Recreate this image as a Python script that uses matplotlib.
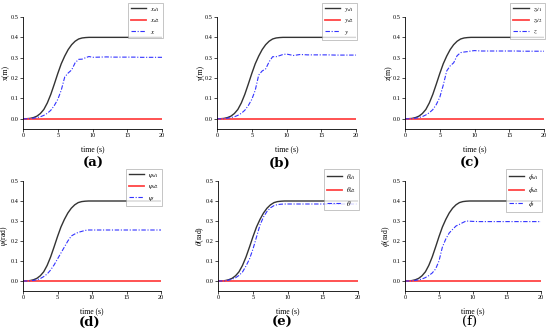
import matplotlib
matplotlib.use("Agg")
import matplotlib.pyplot as plt

plt.rcParams['font.family'] = ['Liberation Serif', 'DejaVu Serif']
plt.rcParams['mathtext.fontset'] = 'stix'

# time samples
t = [0, 0.5, 1, 1.5, 2, 2.5, 3, 3.5, 4, 4.5, 5, 5.5, 6, 6.5, 7, 7.5, 8, 8.5, 9, 9.5, 10,
     11, 12, 13, 14, 15, 16, 17, 18, 19, 20]

# desired trajectory 1 (same in all panels)
des1 = [0, 0.0005, 0.002, 0.006, 0.013, 0.026, 0.046, 0.078, 0.12, 0.17, 0.222, 0.27, 0.308,
        0.34, 0.364, 0.381, 0.392, 0.397, 0.399, 0.4, 0.4,
        0.4, 0.4, 0.4, 0.4, 0.4, 0.4, 0.4, 0.4, 0.4, 0.4]
# desired trajectory 2 (zero)
des2 = [0] * len(t)

x_act = [0, 0, 0.001, 0.003, 0.006, 0.01, 0.017, 0.027, 0.042, 0.065, 0.095, 0.14, 0.205,
         0.225, 0.24, 0.275, 0.292, 0.293, 0.3, 0.306, 0.302,
         0.303, 0.304, 0.303, 0.303, 0.303, 0.303, 0.302, 0.302, 0.302, 0.302]
y_act = [0, 0, 0.001, 0.003, 0.006, 0.01, 0.017, 0.027, 0.042, 0.065, 0.095, 0.14, 0.215,
         0.235, 0.245, 0.28, 0.305, 0.305, 0.31, 0.316, 0.318,
         0.311, 0.316, 0.314, 0.314, 0.314, 0.314, 0.313, 0.313, 0.313, 0.313]
z_act = [0, 0, 0.001, 0.003, 0.006, 0.011, 0.019, 0.03, 0.045, 0.07, 0.105, 0.165, 0.235,
         0.26, 0.275, 0.31, 0.325, 0.328, 0.33, 0.333, 0.335,
         0.333, 0.333, 0.333, 0.333, 0.333, 0.333, 0.332, 0.332, 0.332, 0.332]
psi_act = [0, 0, 0.001, 0.003, 0.006, 0.012, 0.022, 0.035, 0.055, 0.08, 0.11, 0.14, 0.17,
           0.2, 0.225, 0.235, 0.243, 0.248, 0.253, 0.255, 0.255,
           0.255, 0.255, 0.255, 0.255, 0.255, 0.255, 0.255, 0.255, 0.255, 0.255]
theta_act = [0, 0, 0.001, 0.004, 0.009, 0.016, 0.028, 0.045, 0.075, 0.11, 0.16, 0.22, 0.28,
             0.32, 0.348, 0.366, 0.377, 0.382, 0.384, 0.385, 0.385,
             0.385, 0.385, 0.385, 0.385, 0.385, 0.385, 0.385, 0.385, 0.385, 0.385]
phi_act = [0, 0, 0.001, 0.003, 0.006, 0.01, 0.017, 0.027, 0.04, 0.06, 0.1, 0.17, 0.21,
           0.24, 0.258, 0.275, 0.283, 0.292, 0.3, 0.299, 0.298,
           0.297, 0.297, 0.297, 0.297, 0.297, 0.297, 0.297, 0.297, 0.297, 0.297]

symbols = ['x', 'y', 'z', r'\psi', r'\theta', r'\phi']
ylabels = ['x(m)', 'y(m)', 'z(m)', r'$\psi$(rad)', r'$\theta$(rad)', r'$\phi$(rad)']
actuals = [x_act, y_act, z_act, psi_act, theta_act, phi_act]
panel_labels = ['(a)', '(b)', '(c)', '(d)', '(e)', '(f)']
xticks = [0, 5, 10, 15, 20]
yticks = [0.0, 0.1, 0.2, 0.3, 0.4, 0.5]

W, H = 550, 334
fig = plt.figure(figsize=(5.5, 3.34), dpi=100)

# pixel boxes: left, right, top(0.5), bottom(-0.05)
boxes = [(23, 162, 17, 129), (217, 356, 17, 129), (405, 544, 17, 129),
         (23, 161, 181, 291), (218, 358, 181, 291), (405, 541, 181, 291)]
legend_top = [3, 3, 3, 169, 169, 169]
label_pos = [(93, 163), (280, 163), (470, 163), (90, 322), (282, 322), (470, 321)]

for i in range(6):
    l, r, tp, b = boxes[i]
    ax = fig.add_axes([l / W, 1 - b / H, (r - l) / W, (b - tp) / H])
    ax.plot(t, des1, color='#333333', lw=1.0, label=r'$%s_{d1}$' % symbols[i])
    ax.plot(t, des2, color='#ff4444', lw=1.3, label=r'$%s_{d2}$' % symbols[i])
    ax.plot(t, actuals[i], color='#3333ff', lw=0.8, dashes=[4, 1.5, 1, 1.5],
            label=r'$%s$' % symbols[i])
    ax.set_xlim(0, 20)
    ax.set_ylim(-0.05, 0.5)
    ax.set_xticks(xticks)
    ax.set_yticks(yticks)
    ax.set_yticklabels(['%.1f' % v for v in yticks])
    ax.spines['top'].set_visible(False)
    ax.spines['right'].set_visible(False)
    for s in ['left', 'bottom']:
        ax.spines[s].set_linewidth(0.6)
    ax.tick_params(labelsize=4.5, length=2, width=0.5, pad=1)
    ax.set_xlabel('time (s)', fontsize=5.5)
    ax.xaxis.set_label_coords(0.5, -16 / (b - tp))
    ax.set_ylabel(ylabels[i], fontsize=5.5)
    ax.yaxis.set_label_coords(-12.5 / (r - l), 0.5)
    leg = ax.legend(loc='upper right', bbox_to_anchor=((r + 1) / W, 1 - legend_top[i] / H),
                    bbox_transform=fig.transFigure, fontsize=5, frameon=True,
                    fancybox=False, handlelength=2.2, handletextpad=0.6,
                    borderpad=0.4, labelspacing=0.5, borderaxespad=0)
    leg.get_frame().set_linewidth(0.5)
    leg.get_frame().set_edgecolor('#999999')
    lx, ly = label_pos[i]
    fig.text(lx / W, 1 - ly / H, panel_labels[i], ha='center', va='center',
             fontsize=9.5, fontweight='bold' if i < 5 else 'normal',
             family=['DejaVu Serif'])

fig.savefig('out.png', dpi=100)
